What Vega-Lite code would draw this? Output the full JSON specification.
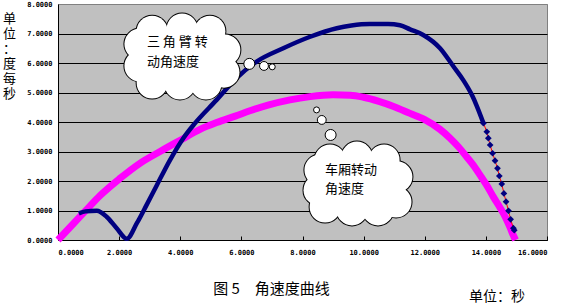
{
  "$schema": "https://vega.github.io/schema/vega-lite/v6.json",
  "width": 489,
  "height": 236,
  "autosize": {"type": "none"},
  "padding": {"left": 58, "top": 4, "right": 14, "bottom": 66},
  "background": "#FFFFFF",
  "config": {"view": {"fill": "#C0C0C0", "stroke": "#808080", "strokeWidth": 1}},
  "title": {"text": "单位：秒", "orient": "bottom", "anchor": "end", "frame": "group", "font": "Noto Sans CJK SC", "fontSize": 14, "fontWeight": "normal", "color": "#000000", "offset": 0, "dx": -22, "dy": -6},
  "datasets": {
    "series": [
      {"s": "m", "x": 0, "y": 0}, {"s": "m", "x": 0.3, "y": 0.33}, {"s": "m", "x": 0.72, "y": 0.79}, {"s": "m", "x": 1.0, "y": 1.1}, {"s": "m", "x": 1.37, "y": 1.5}, {"s": "m", "x": 2.03, "y": 2.09}, {"s": "m", "x": 2.68, "y": 2.6}, {"s": "m", "x": 3.34, "y": 3.0}, {"s": "m", "x": 4.0, "y": 3.38}, {"s": "m", "x": 4.65, "y": 3.75}, {"s": "m", "x": 5.19, "y": 3.98}, {"s": "m", "x": 5.8, "y": 4.2}, {"s": "m", "x": 6.28, "y": 4.38}, {"s": "m", "x": 6.9, "y": 4.58}, {"s": "m", "x": 7.59, "y": 4.75}, {"s": "m", "x": 8.25, "y": 4.86}, {"s": "m", "x": 9.0, "y": 4.92}, {"s": "m", "x": 9.56, "y": 4.91}, {"s": "m", "x": 10.0, "y": 4.84}, {"s": "m", "x": 10.5, "y": 4.7}, {"s": "m", "x": 11.0, "y": 4.52}, {"s": "m", "x": 11.5, "y": 4.3}, {"s": "m", "x": 12.0, "y": 4.08}, {"s": "m", "x": 12.5, "y": 3.75}, {"s": "m", "x": 12.83, "y": 3.45}, {"s": "m", "x": 13.1, "y": 3.16}, {"s": "m", "x": 13.37, "y": 2.82}, {"s": "m", "x": 13.6, "y": 2.52}, {"s": "m", "x": 13.81, "y": 2.2}, {"s": "m", "x": 14.03, "y": 1.85}, {"s": "m", "x": 14.24, "y": 1.47}, {"s": "m", "x": 14.45, "y": 1.12}, {"s": "m", "x": 14.63, "y": 0.79}, {"s": "m", "x": 14.78, "y": 0.45}, {"s": "m", "x": 14.9, "y": 0.15}, {"s": "m", "x": 14.97, "y": 0.0},
      {"s": "n", "x": 0.68, "y": 0.9}, {"s": "n", "x": 0.9, "y": 0.97}, {"s": "n", "x": 1.27, "y": 0.99}, {"s": "n", "x": 1.59, "y": 0.79}, {"s": "n", "x": 1.92, "y": 0.4}, {"s": "n", "x": 2.25, "y": 0.04}, {"s": "n", "x": 2.58, "y": 0.57}, {"s": "n", "x": 2.9, "y": 1.19}, {"s": "n", "x": 3.23, "y": 1.85}, {"s": "n", "x": 3.66, "y": 2.7}, {"s": "n", "x": 4.1, "y": 3.45}, {"s": "n", "x": 4.45, "y": 3.92}, {"s": "n", "x": 5.19, "y": 4.75}, {"s": "n", "x": 5.85, "y": 5.5}, {"s": "n", "x": 6.5, "y": 6.05}, {"s": "n", "x": 7.37, "y": 6.5}, {"s": "n", "x": 8.25, "y": 6.89}, {"s": "n", "x": 9.12, "y": 7.18}, {"s": "n", "x": 9.6, "y": 7.27}, {"s": "n", "x": 10.2, "y": 7.32}, {"s": "n", "x": 10.8, "y": 7.32}, {"s": "n", "x": 11.19, "y": 7.28}, {"s": "n", "x": 11.52, "y": 7.14}, {"s": "n", "x": 11.95, "y": 6.95}, {"s": "n", "x": 12.5, "y": 6.5}, {"s": "n", "x": 12.94, "y": 5.88}, {"s": "n", "x": 13.26, "y": 5.42}, {"s": "n", "x": 13.54, "y": 4.92}, {"s": "n", "x": 13.7, "y": 4.55}, {"s": "n", "x": 13.92, "y": 3.96}, {"s": "n", "x": 14.03, "y": 3.67}, {"s": "n", "x": 14.08, "y": 3.45}, {"s": "n", "x": 14.14, "y": 3.22}, {"s": "n", "x": 14.22, "y": 2.94}, {"s": "n", "x": 14.3, "y": 2.69}, {"s": "n", "x": 14.38, "y": 2.43}, {"s": "n", "x": 14.44, "y": 2.17}, {"s": "n", "x": 14.52, "y": 1.9}, {"s": "n", "x": 14.59, "y": 1.58}, {"s": "n", "x": 14.66, "y": 1.3}, {"s": "n", "x": 14.74, "y": 0.99}, {"s": "n", "x": 14.81, "y": 0.7}, {"s": "n", "x": 14.9, "y": 0.4}, {"s": "n", "x": 14.93, "y": 0.33}
    ],
    "cloud": [
      {"part": "lobe", "x": 3.08, "y": 7.08}, {"part": "lobe", "x": 4.06, "y": 7.15}, {"part": "lobe", "x": 4.97, "y": 7.08}, {"part": "lobe", "x": 5.46, "y": 6.44}, {"part": "lobe", "x": 5.43, "y": 5.69}, {"part": "lobe", "x": 4.84, "y": 5.29}, {"part": "lobe", "x": 3.99, "y": 5.29}, {"part": "lobe", "x": 3.08, "y": 5.32}, {"part": "lobe", "x": 2.68, "y": 5.9}, {"part": "lobe", "x": 2.68, "y": 6.64},
      {"part": "core", "x": 3.44, "y": 6.2}, {"part": "core", "x": 4.68, "y": 6.2},
      {"part": "big", "x": 6.26, "y": 5.97}, {"part": "mid", "x": 6.74, "y": 5.9}, {"part": "small", "x": 7.01, "y": 5.87},
      {"part": "lobe", "x": 8.9, "y": 2.71}, {"part": "lobe", "x": 9.78, "y": 2.81}, {"part": "lobe", "x": 10.67, "y": 2.71}, {"part": "lobe", "x": 11.09, "y": 2.14}, {"part": "lobe", "x": 11.06, "y": 1.29}, {"part": "lobe", "x": 10.47, "y": 1.02}, {"part": "lobe", "x": 9.62, "y": 1.02}, {"part": "lobe", "x": 8.74, "y": 1.12}, {"part": "lobe", "x": 8.54, "y": 1.69}, {"part": "lobe", "x": 8.57, "y": 2.37},
      {"part": "core", "x": 9.23, "y": 1.9}, {"part": "core", "x": 10.41, "y": 1.9},
      {"part": "big", "x": 8.92, "y": 3.56}, {"part": "mid", "x": 8.63, "y": 4.07}, {"part": "small", "x": 8.46, "y": 4.41}
    ],
    "labels": [
      {"t": "三 角 臂 转", "x": 2.91, "y": 6.72},
      {"t": "动角速度", "x": 2.91, "y": 6.04},
      {"t": "车厢转动", "x": 8.74, "y": 2.37},
      {"t": "角速度", "x": 8.74, "y": 1.72}
    ]
  },
  "encoding": {
    "x": {"field": "x", "type": "quantitative", "scale": {"domain": [0, 16], "nice": false, "zero": false},
      "axis": {"values": [0, 2, 4, 6, 8, 10, 12, 14, 16], "format": ".4f", "grid": false,
        "labelFont": "DejaVu Sans Mono", "labelFontSize": 7, "labelFontWeight": "bold", "labelColor": "#000000",
        "tickSize": -4, "tickColor": "#000000", "domainColor": "#000000", "labelPadding": 12,
        "title": "图 5　角速度曲线", "titleFont": "Noto Sans CJK SC", "titleFontSize": 15, "titleFontWeight": "normal", "titleColor": "#000000",
        "titleX": 213, "titleY": 48, "titleBaseline": "middle", "titleAlign": "center"}},
    "y": {"field": "y", "type": "quantitative", "scale": {"domain": [0, 8], "nice": false, "zero": false},
      "axis": {"values": [0, 1, 2, 3, 4, 5, 6, 7, 8], "format": ".4f", "grid": true,
        "gridColor": {"condition": {"test": "datum.value == 8", "value": "#808080"}, "value": "#000000"}, "gridOpacity": 1, "gridWidth": 1,
        "ticks": false, "labelPadding": 6, "domainColor": "#000000",
        "labelFont": "DejaVu Sans Mono", "labelFontSize": 7, "labelFontWeight": "bold", "labelColor": "#000000",
        "title": ["单", "位", "：", "度", "每", "秒"], "titleFont": "Noto Sans CJK SC", "titleFontSize": 13, "titleFontWeight": "normal", "titleColor": "#000000",
        "titleAngle": 0, "titleLineHeight": 15, "titleAlign": "center", "titleBaseline": "top", "titleX": -49, "titleY": 8}}
  },
  "layer": [
    {"data": {"name": "series"}, "transform": [{"filter": "datum.s == 'm'"}],
     "mark": {"type": "line", "color": "#FF00FF", "strokeWidth": 7, "strokeJoin": "round", "interpolate": "monotone"}},
    {"data": {"name": "series"}, "transform": [{"filter": "datum.s == 'n' && datum.x <= 13.92"}],
     "mark": {"type": "line", "color": "#000080", "strokeWidth": 4.5, "strokeJoin": "round", "interpolate": "monotone"}},
    {"data": {"name": "series"}, "transform": [{"filter": "datum.s == 'n' && datum.x >= 13.92"}],
     "mark": {"type": "line", "color": "#FF0000", "strokeWidth": 1}},
    {"data": {"name": "series"}, "transform": [{"filter": "datum.s == 'n' && datum.x >= 13.92"}],
     "mark": {"type": "point", "shape": "diamond", "filled": true, "color": "#000080", "size": 45, "opacity": 1}},
    {"data": {"name": "cloud"}, "transform": [{"filter": "datum.part == 'lobe'"}],
     "mark": {"type": "point", "shape": "circle", "filled": true, "fill": "#FFFFFF", "stroke": "#000000", "strokeWidth": 2, "size": 961, "opacity": 1}},
    {"data": {"name": "cloud"}, "transform": [{"filter": "datum.part == 'lobe'"}],
     "mark": {"type": "point", "shape": "circle", "filled": true, "fill": "#FFFFFF", "strokeWidth": 0, "size": 961, "opacity": 1}},
    {"data": {"name": "cloud"}, "transform": [{"filter": "datum.part == 'core'"}],
     "mark": {"type": "point", "shape": "circle", "filled": true, "fill": "#FFFFFF", "strokeWidth": 0, "size": 3000, "opacity": 1}},
    {"data": {"name": "cloud"}, "transform": [{"filter": "datum.part == 'big' || datum.part == 'mid' || datum.part == 'small'"}],
     "mark": {"type": "point", "shape": "circle", "filled": true, "fill": "#FFFFFF", "stroke": "#000000", "strokeWidth": 1, "opacity": 1},
     "encoding": {"size": {"field": "part", "type": "ordinal", "scale": {"domain": ["small", "mid", "big"], "range": [36, 121, 256]}, "legend": null}}},
    {"data": {"name": "labels"},
     "mark": {"type": "text", "align": "left", "baseline": "middle", "font": "Noto Sans CJK SC", "fontSize": 13, "color": "#000000"},
     "encoding": {"text": {"field": "t", "type": "nominal"}}}
  ]
}
